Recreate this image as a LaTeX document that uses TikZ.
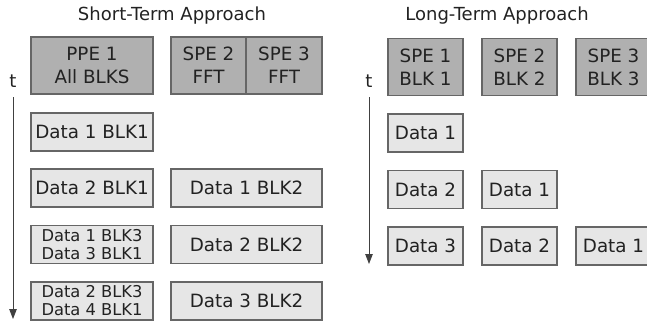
\documentclass[tikz,border=0pt]{standalone}
\usepackage{fontspec}
\setmainfont{DejaVu Sans}
\usetikzlibrary{arrows.meta}
\definecolor{unitfill}{HTML}{B0B0B0}
\definecolor{datafill}{HTML}{E6E6E6}
\definecolor{edgegray}{HTML}{666666}
\definecolor{inkgray}{HTML}{222222}
\begin{document}
\begin{tikzpicture}[x=1pt,y=-1pt,
  every node/.style={inner sep=0pt,outer sep=0pt,text=inkgray},
  unit/.style={draw=edgegray,line width=1.1pt,fill=unitfill,align=center,
    minimum height=57pt,font=\fontsize{18.3}{23}\selectfont},
  datum/.style={draw=edgegray,line width=1.1pt,fill=datafill,align=center,
    minimum height=38pt,font=\fontsize{18.3}{21}\selectfont},
  twoline/.style={font=\fontsize{16.3}{18}\selectfont},
  heading/.style={font=\fontsize{18}{21}\selectfont},
  timeaxis/.style={draw=black!75,line width=0.9pt,-{Triangle[length=10pt,width=7.5pt]}}]
\useasboundingbox (0,0) rectangle (647,324);

% ---- short-term approach ----
\node[heading] (sttitle) at (172,16) {Short-Term Approach};
\node[unit,minimum width=122pt] (ppe) at (92,65.5) {PPE 1\\All BLKS};
\node[unit,minimum width=75pt] (sspe2) at (208.5,65.5) {SPE 2\\FFT};
\node[unit,minimum width=76pt] (sspe3) at (284,65.5) {SPE 3\\FFT};

\node[datum,minimum width=122pt] (a1) at (92,132) {Data 1 BLK1};
\node[datum,minimum width=122pt] (a2) at (92,188) {Data 2 BLK1};
\node[datum,minimum width=151pt] (b2) at (246.5,188) {Data 1 BLK2};
\node[datum,twoline,minimum width=122pt] (a3) at (92,244.5) {Data 1 BLK3\\Data 3 BLK1};
\node[datum,minimum width=151pt] (b3) at (246.5,244.5) {Data 2 BLK2};
\node[datum,twoline,minimum width=122pt] (a4) at (92,301) {Data 2 BLK3\\Data 4 BLK1};
\node[datum,minimum width=151pt] (b4) at (246.5,301) {Data 3 BLK2};

\node[heading] (st) at (13,81) {t};
\coordinate (stend) at (13,319);
\draw[timeaxis] (13,97) -- (stend);

% ---- long-term approach ----
\node[heading] (lttitle) at (497,16) {Long-Term Approach};
\node[unit,minimum width=75pt] (lspe1) at (425.5,67) {SPE 1\\BLK 1};
\node[unit,minimum width=75pt] (lspe2) at (519.5,67) {SPE 2\\BLK 2};
\node[unit,minimum width=75pt] (lspe3) at (613.5,67) {SPE 3\\BLK 3};

\node[datum,minimum width=75pt] (c1) at (425.5,133) {Data 1};
\node[datum,minimum width=75pt] (c2) at (425.5,189.5) {Data 2};
\node[datum,minimum width=75pt] (d2) at (519.5,189.5) {Data 1};
\node[datum,minimum width=75pt] (c3) at (425.5,246) {Data 3};
\node[datum,minimum width=75pt] (d3) at (519.5,246) {Data 2};
\node[datum,minimum width=75pt] (e3) at (613.5,246) {Data 1};

\node[heading] (lt) at (369,81) {t};
\coordinate (ltend) at (369,264);
\draw[timeaxis] (369,97) -- (ltend);
\end{tikzpicture}
\end{document}
